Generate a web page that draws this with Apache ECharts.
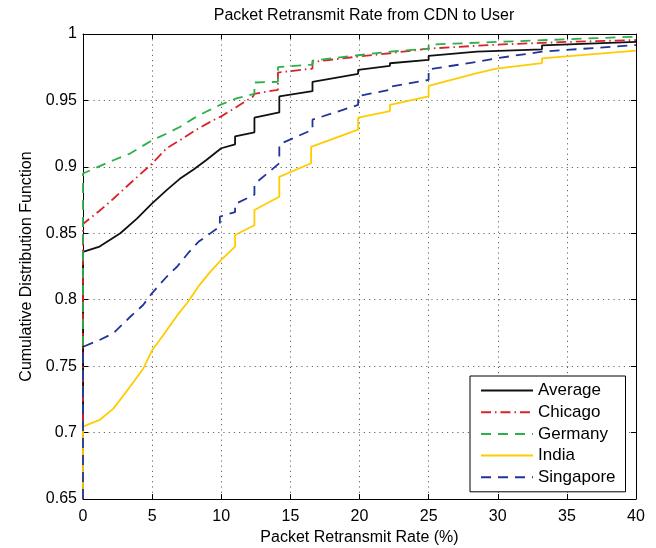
<!DOCTYPE html>
<html>
<head>
<meta charset="utf-8">
<script src="https://cdn.jsdelivr.net/npm/echarts@6/dist/echarts.min.js"></script>
<style>
  html, body { margin: 0; padding: 0; background: #fff; }
  #chart { width: 656px; height: 548px; }
</style>
</head>
<body>
<div id="chart"></div>
<script>
// ---- Data ----
var chartTitle = 'Packet Retransmit Rate from CDN to User';
var xAxisName = 'Packet Retransmit Rate (%)';
var yAxisName = 'Cumulative Distribution Function';
var seriesNames = ['Average', 'Chicago', 'Germany', 'India', 'Singapore'];

var averageData = [
  [0, 0.65], [0, 0.836], [1.2, 0.840], [2.7, 0.850], [3.9, 0.861], [5, 0.8725],
  [6.05, 0.8825], [7, 0.891], [8, 0.898], [8.9, 0.905], [10, 0.914], [11, 0.917],
  [11, 0.923], [12.4, 0.926], [12.4, 0.937], [14.2, 0.941], [14.2, 0.953],
  [16.6, 0.957], [16.6, 0.964], [19.9, 0.970], [19.9, 0.973], [22.2, 0.976],
  [22.2, 0.978], [25, 0.9805], [25, 0.9835], [28.5, 0.9867], [33.2, 0.9885],
  [33.2, 0.9915], [40, 0.994]
];
var chicagoData = [
  [0, 0.65], [0, 0.857], [1.2, 0.867], [2.2, 0.876], [3.4, 0.8875], [5, 0.9025],
  [6.05, 0.914], [7, 0.920], [8.2, 0.928], [9.4, 0.935], [10, 0.938], [11.1, 0.945],
  [12.3, 0.953], [12.4, 0.955], [14.1, 0.958], [14.1, 0.971], [16.6, 0.974],
  [16.6, 0.979], [19.9, 0.983], [22.2, 0.9855], [25, 0.989], [29.9, 0.992],
  [34.9, 0.994], [40, 0.9955]
];
var germanyData = [
  [0, 0.65], [0, 0.895], [2.2, 0.905], [3.4, 0.910], [5, 0.920], [6.05, 0.925],
  [7, 0.930], [8, 0.9365], [8.9, 0.9415], [10, 0.947], [11.1, 0.9515], [12.4, 0.955],
  [12.4, 0.9635], [14.1, 0.964], [14.1, 0.975], [16.6, 0.977], [16.6, 0.980],
  [19.9, 0.984], [22.2, 0.9867], [25, 0.989], [25, 0.992], [29.9, 0.994],
  [34.9, 0.996], [40, 0.998]
];
var indiaData = [
  [0, 0.65], [0, 0.7045], [1.2, 0.7095], [2.2, 0.718], [3.4, 0.7345], [4.35, 0.748],
  [5, 0.762], [5.8, 0.7733], [6.8, 0.788], [7.6, 0.7985], [8.35, 0.810], [9.2, 0.821],
  [10, 0.830], [11, 0.840], [11, 0.8487], [12.4, 0.856], [12.4, 0.8675],
  [14.2, 0.8775], [14.2, 0.8925], [16.5, 0.9027], [16.5, 0.915], [19.9, 0.928],
  [19.9, 0.937], [22.2, 0.942], [22.2, 0.9466], [25, 0.953], [25, 0.961],
  [28.5, 0.9705], [29.9, 0.974], [33.2, 0.978], [33.2, 0.9817], [40, 0.9875]
];
var singaporeData = [
  [0, 0.65], [0, 0.7645], [1.2, 0.7697], [2.2, 0.7747], [3.4, 0.787], [4.35, 0.796],
  [5, 0.805], [6.05, 0.8173], [6.8, 0.8248], [7.6, 0.835], [8.35, 0.8436],
  [9.9, 0.855], [9.9, 0.8625], [11, 0.866], [11, 0.872], [12.4, 0.879], [12.4, 0.887],
  [14.2, 0.9027], [14.2, 0.917], [16.6, 0.928], [16.6, 0.9355], [19.9, 0.9466],
  [19.9, 0.9533], [22.2, 0.958], [22.2, 0.9603], [25, 0.9654], [25, 0.9734],
  [28.5, 0.979], [29.9, 0.9817], [33.2, 0.9867], [40, 0.9917]
];

var xMin = 0, xMax = 40, xStep = 5;
var yMin = 0.65, yMax = 1, yStep = 0.05;

// ---- Styling ----
var FONT = '"Liberation Sans", Arial, Helvetica, sans-serif';
var seriesData = [averageData, chicagoData, germanyData, indiaData, singaporeData];
var seriesColors = ['#111111', '#d8232a', '#2bb14a', '#ffcc00', '#22339a'];
var seriesDash = ['solid', [10, 4, 1.5, 4], [10, 7], 'solid', [10, 7]];

var chart = echarts.init(document.getElementById('chart'), null, { renderer: 'canvas' });

var gridLine = { show: true, lineStyle: { color: '#666', width: 1, type: [1.2, 4] } };
var tickStyle = { show: true, inside: true, length: 5, lineStyle: { color: '#000', width: 1 } };
var axisLineStyle = { show: true, onZero: false, lineStyle: { color: '#000', width: 1 } };

var option = {
  animation: false,
  backgroundColor: '#fff',
  textStyle: { fontFamily: FONT },
  title: {
    text: chartTitle,
    left: 359,
    textAlign: 'center',
    top: 3,
    textStyle: { fontFamily: FONT, fontSize: 16, fontWeight: 'normal', color: '#000' }
  },
  grid: { left: 83, right: 20, top: 34, bottom: 49, containLabel: false, outerBoundsMode: 'none' },
  legend: {
    orient: 'vertical',
    left: 470,
    top: 376,
    padding: [6, 10, 6, 10],
    itemWidth: 52,
    itemHeight: 14,
    itemGap: 4.7,
    borderColor: '#000',
    borderWidth: 1,
    backgroundColor: '#fff',
    itemStyle: { opacity: 0 },
    textStyle: { fontFamily: FONT, fontSize: 17, color: '#000' },
    data: seriesNames
  },
  xAxis: [
    {
      type: 'value', min: xMin, max: xMax, interval: xStep, position: 'bottom',
      name: xAxisName, nameLocation: 'middle', nameGap: 30,
      nameTextStyle: { fontFamily: FONT, fontSize: 16, color: '#000' },
      axisLine: axisLineStyle, axisTick: tickStyle,
      axisLabel: { color: '#000', fontSize: 16, fontFamily: FONT, margin: 10 },
      splitLine: gridLine
    },
    {
      type: 'value', min: xMin, max: xMax, interval: xStep, position: 'top',
      axisLine: axisLineStyle, axisTick: tickStyle,
      axisLabel: { show: false }, splitLine: { show: false }
    }
  ],
  yAxis: [
    {
      type: 'value', min: yMin, max: yMax, interval: yStep, position: 'left',
      name: yAxisName, nameLocation: 'middle', nameGap: 46,
      nameTextStyle: { fontFamily: FONT, fontSize: 16, color: '#000' },
      axisLine: axisLineStyle, axisTick: tickStyle,
      axisLabel: { color: '#000', fontSize: 16, fontFamily: FONT, margin: 6 },
      splitLine: gridLine
    },
    {
      type: 'value', min: yMin, max: yMax, interval: yStep, position: 'right',
      axisLine: axisLineStyle, axisTick: tickStyle,
      axisLabel: { show: false }, splitLine: { show: false }
    }
  ],
  series: seriesNames.map(function (name, i) {
    return {
      name: name,
      type: 'line',
      xAxisIndex: 0,
      yAxisIndex: 0,
      data: seriesData[i],
      symbol: 'none',
      showSymbol: false,
      smooth: false,
      clip: true,
      z: 3,
      color: seriesColors[i],
      lineStyle: { color: seriesColors[i], width: 1.8, type: seriesDash[i] },
      itemStyle: { color: seriesColors[i] }
    };
  })
};

chart.setOption(option);
</script>
</body>
</html>
